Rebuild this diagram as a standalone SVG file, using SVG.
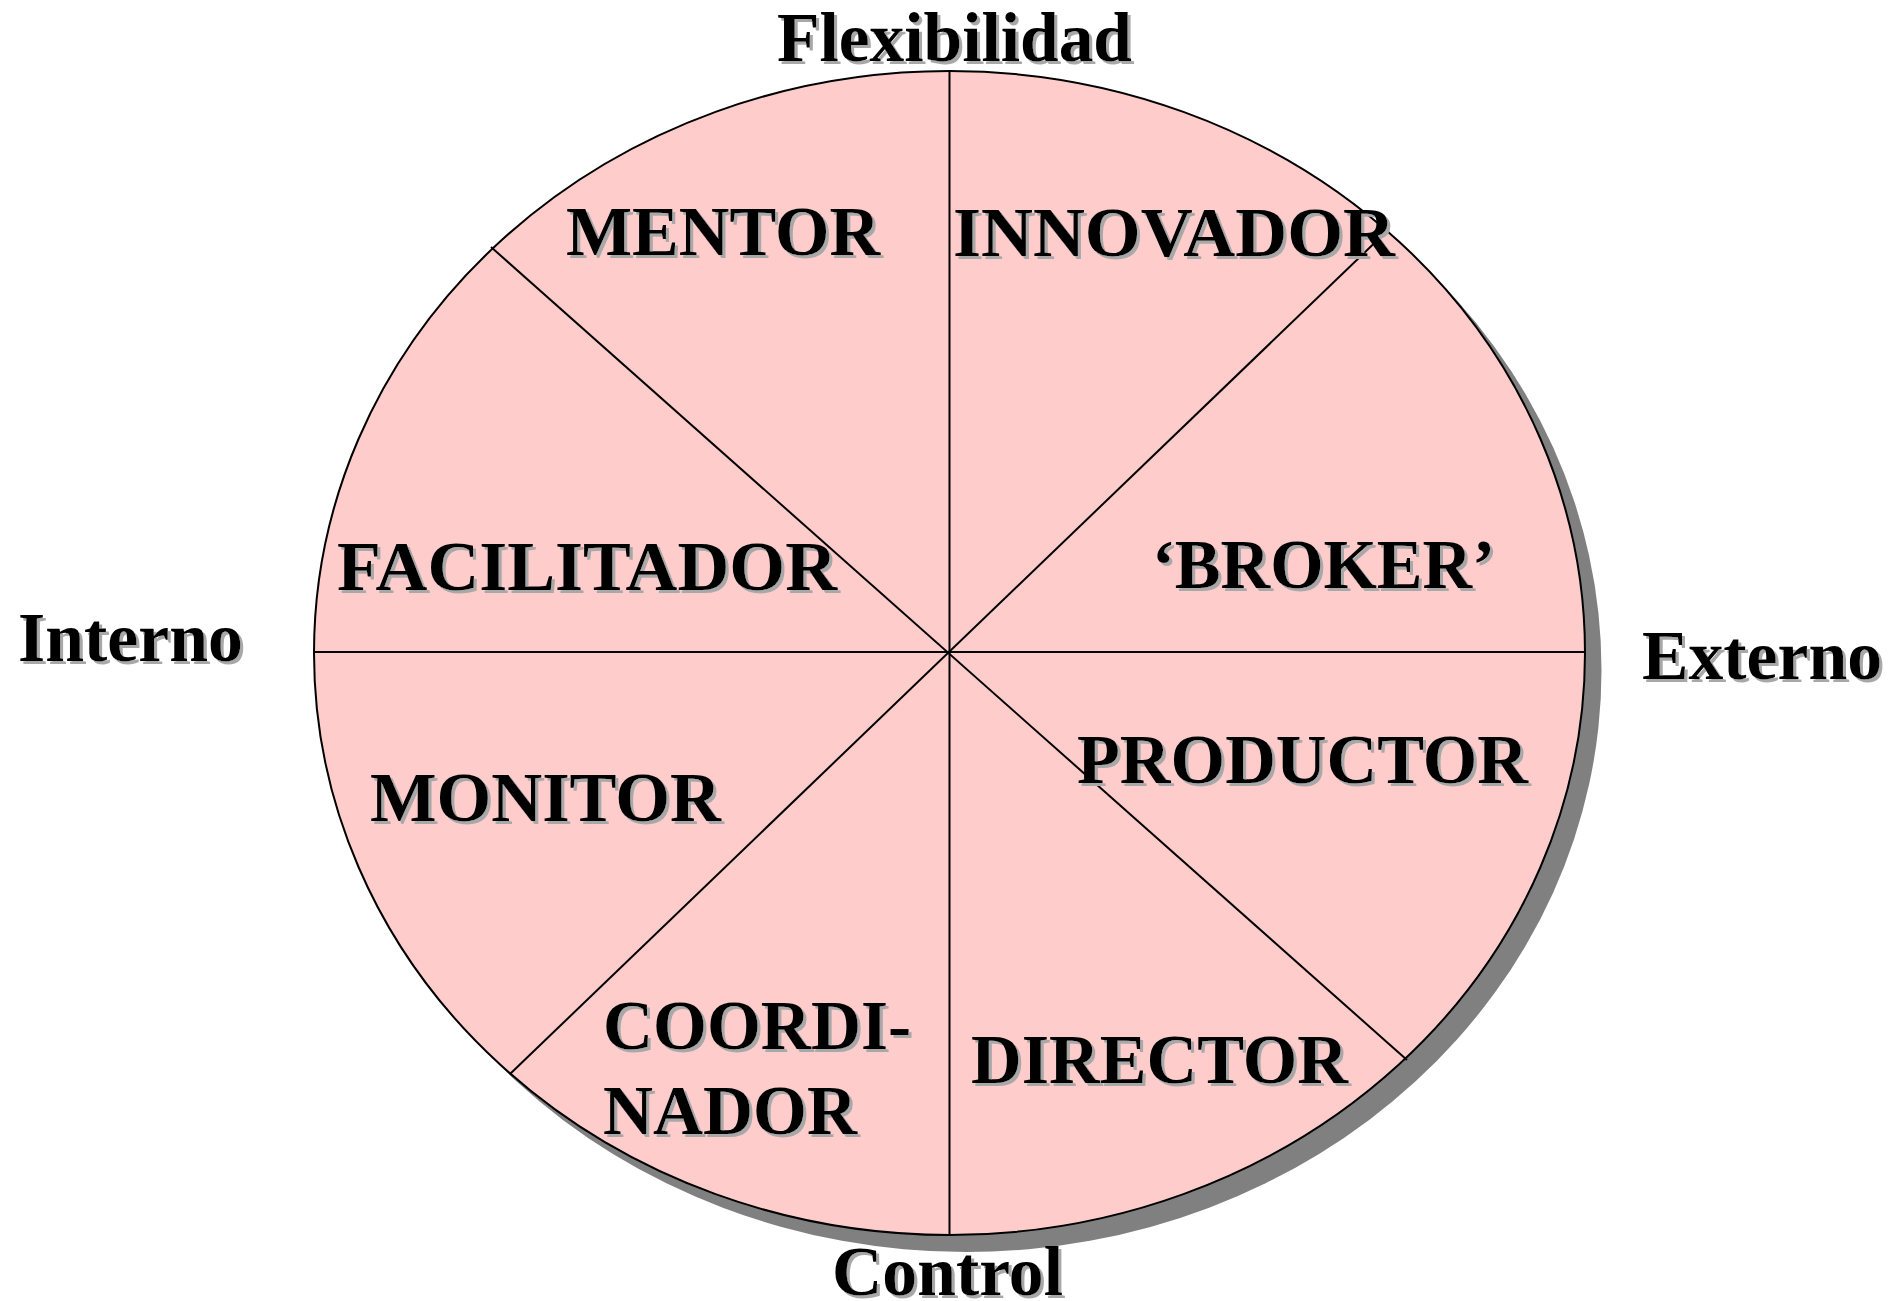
<svg xmlns="http://www.w3.org/2000/svg" width="1904" height="1301" viewBox="0 0 1904 1301">
  <defs>
    <style>
      .t { font-family: "Liberation Serif", "Times New Roman", serif; font-weight: bold; font-size: 70px; fill: #000; filter: url(#ts); }
      .ln { stroke: #000; stroke-width: 2; fill: none; }
    </style>
    <filter id="ts" x="-5%" y="-10%" width="115%" height="130%">
      <feFlood flood-color="#a8a8a8" result="c"/>
      <feComposite in="c" in2="SourceAlpha" operator="in" result="sh"/>
      <feOffset in="sh" dx="3" dy="3" result="o"/>
      <feMerge>
        <feMergeNode in="o"/>
        <feMergeNode in="SourceGraphic"/>
      </feMerge>
    </filter>
  </defs>
  <rect width="1904" height="1301" fill="#fff"/>

  <g id="wheel">
    <ellipse cx="966" cy="670" rx="635.5" ry="582" fill="#808080"/>
    <ellipse cx="949.5" cy="653" rx="635.5" ry="582" fill="#ffcccc" stroke="#000" stroke-width="2"/>
  </g>

  <g id="connectors">
    <line class="ln" x1="949.5" y1="71" x2="949.5" y2="1235"/>
    <line class="ln" x1="314" y1="652" x2="1585" y2="652"/>
    <line class="ln" x1="491" y1="247" x2="1407" y2="1060"/>
    <line class="ln" x1="1388" y1="230" x2="510" y2="1074"/>
  </g>

  <g id="axis-flexibilidad"><text class="t" x="777" y="61" textLength="355" lengthAdjust="spacingAndGlyphs">Flexibilidad</text></g>
  <g id="axis-control"><text class="t" x="832" y="1295" textLength="231" lengthAdjust="spacingAndGlyphs">Control</text></g>
  <g id="axis-interno"><text class="t" x="18" y="661" textLength="225" lengthAdjust="spacingAndGlyphs">Interno</text></g>
  <g id="axis-externo"><text class="t" x="1642" y="679" textLength="240" lengthAdjust="spacingAndGlyphs">Externo</text></g>

  <g id="mentor"><text class="t" x="566" y="255" textLength="314" lengthAdjust="spacingAndGlyphs">MENTOR</text></g>
  <g id="innovador"><text class="t" x="953" y="256" textLength="442" lengthAdjust="spacingAndGlyphs">INNOVADOR</text></g>
  <g id="facilitador"><text class="t" x="337" y="590" textLength="500" lengthAdjust="spacingAndGlyphs">FACILITADOR</text></g>
  <g id="broker"><text class="t" x="1152" y="588" textLength="343" lengthAdjust="spacingAndGlyphs">‘BROKER’</text></g>
  <g id="monitor"><text class="t" x="370" y="821" textLength="351" lengthAdjust="spacingAndGlyphs">MONITOR</text></g>
  <g id="productor"><text class="t" x="1077" y="783" textLength="451" lengthAdjust="spacingAndGlyphs">PRODUCTOR</text></g>
  <g id="coordinador">
    <text class="t" x="603" y="1049" textLength="308" lengthAdjust="spacingAndGlyphs">COORDI-</text>
    <text class="t" x="603" y="1134" textLength="254" lengthAdjust="spacingAndGlyphs">NADOR</text>
  </g>
  <g id="director"><text class="t" x="971" y="1083" textLength="377" lengthAdjust="spacingAndGlyphs">DIRECTOR</text></g>
</svg>
